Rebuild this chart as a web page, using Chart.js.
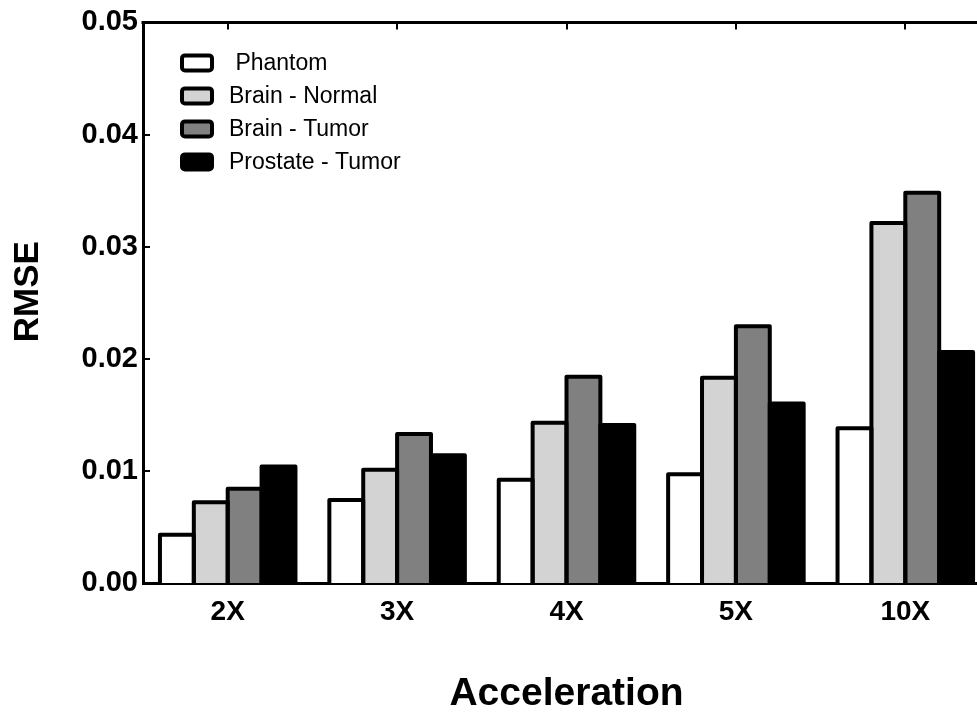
<!DOCTYPE html>
<html>
<head>
<meta charset="utf-8">
<title>RMSE vs Acceleration</title>
<script src="https://cdn.jsdelivr.net/npm/chart.js@4/dist/chart.umd.min.js"></script>
<style>
    html, body { margin: 0; padding: 0; background: #fff; overflow: hidden; }
    #wrap { width: 1000px; height: 715px; }
</style>
</head>
<body>
<div id="wrap"><canvas id="rmseChart" width="1000" height="715"></canvas></div>
<script>
const accelerations = ['2X', '3X', '4X', '5X', '10X'];

const phantom     = [0.0043, 0.0074, 0.0092, 0.0097, 0.0138];
const brainNormal = [0.0072, 0.0101, 0.0143, 0.0183, 0.0321];
const brainTumor  = [0.0084, 0.0133, 0.0184, 0.0229, 0.0348];
const prostate    = [0.0104, 0.0114, 0.0141, 0.0160, 0.0206];

const seriesLabels = [' Phantom', 'Brain - Normal', 'Brain - Tumor', 'Prostate - Tumor'];
const seriesColors = ['#ffffff', '#d3d3d3', '#808080', '#000000'];

const yTicks = [0.00, 0.01, 0.02, 0.03, 0.04, 0.05];
const yTitle = 'RMSE';

const FONT = '"Liberation Sans", Arial, sans-serif';
Chart.defaults.font.family = FONT;
Chart.defaults.color = '#000';

// heavy outline centred on each bar edge, so neighbours share one line
const barOutline = {
    id: 'barOutline',
    afterDatasetsDraw(chart) {
        const ctx = chart.ctx;
        ctx.save();
        ctx.strokeStyle = '#000';
        ctx.lineWidth = 4;
        ctx.lineJoin = 'round';
        chart.data.datasets.forEach((ds, i) => {
            chart.getDatasetMeta(i).data.forEach(bar => {
                const p = bar.getProps(['x', 'y', 'base', 'width'], true);
                const l = p.x - p.width / 2;
                const r = p.x + p.width / 2;
                ctx.beginPath();
                ctx.moveTo(l, p.base);
                ctx.lineTo(l, p.y);
                ctx.lineTo(r, p.y);
                ctx.lineTo(r, p.base);
                ctx.stroke();
            });
        });
        ctx.restore();
    }
};

// legend box in the upper left of the plot
const boxLegend = {
    id: 'boxLegend',
    afterDraw(chart) {
        const ctx = chart.ctx;
        const area = chart.chartArea;
        ctx.save();
        chart.data.datasets.forEach((ds, i) => {
            const x = area.left + 39;
            const y = area.top + 33 + i * 33;
            ctx.beginPath();
            ctx.roundRect(x, y, 30, 15, 3);
            ctx.fillStyle = ds.backgroundColor;
            ctx.fill();
            ctx.lineWidth = 4;
            ctx.strokeStyle = '#000';
            ctx.stroke();
            ctx.fillStyle = '#000';
            ctx.font = '23px ' + FONT;
            ctx.textBaseline = 'middle';
            ctx.textAlign = 'left';
            ctx.fillText(ds.label, x + 47, y + 8);
        });
        ctx.restore();
    }
};

// top frame line, short inward tick marks and the rotated y title
const frameTicks = {
    id: 'frameTicks',
    afterDraw(chart) {
        const ctx = chart.ctx;
        const area = chart.chartArea;
        const xs = chart.scales.x;
        const ys = chart.scales.y;
        ctx.save();
        ctx.strokeStyle = '#000';
        ctx.lineWidth = 3;
        ctx.beginPath();
        ctx.moveTo(area.left - 1.5, area.top);
        ctx.lineTo(area.right, area.top);
        ctx.stroke();
        ctx.lineWidth = 2;
        ctx.beginPath();
        ys.ticks.forEach(t => {
            const py = Math.round(ys.getPixelForValue(t.value));
            ctx.moveTo(area.left, py);
            ctx.lineTo(area.left + 7, py);
        });
        xs.ticks.forEach((t, i) => {
            const px = Math.round(xs.getPixelForTick(i));
            ctx.moveTo(px, area.top);
            ctx.lineTo(px, area.top + 7);
        });
        ctx.stroke();

        ctx.translate(28, (area.top + area.bottom) / 2 - 11);
        ctx.rotate(-Math.PI / 2);
        ctx.fillStyle = '#000';
        ctx.font = 'bold 35px ' + FONT;
        ctx.textAlign = 'center';
        ctx.textBaseline = 'middle';
        ctx.fillText(yTitle, 0, 0);
        ctx.restore();
    }
};

const makeSet = (label, data, i) => ({
    label: label,
    data: data,
    backgroundColor: seriesColors[i],
    borderWidth: 0,
    categoryPercentage: 0.8,
    barPercentage: 1.0
});

new Chart(document.getElementById('rmseChart'), {
    type: 'bar',
    data: {
        labels: accelerations,
        datasets: [
            makeSet(seriesLabels[0], phantom, 0),
            makeSet(seriesLabels[1], brainNormal, 1),
            makeSet(seriesLabels[2], brainTumor, 2),
            makeSet(seriesLabels[3], prostate, 3)
        ]
    },
    options: {
        responsive: false,
        animation: false,
        layout: { padding: { left: 0, right: 10, top: 21, bottom: 0 } },
        plugins: {
            legend: { display: false },
            tooltip: { enabled: false }
        },
        scales: {
            x: {
                z: 1,
                grid: { display: false, drawTicks: false },
                border: { display: true, color: '#000', width: 3 },
                ticks: {
                    padding: 12,
                    font: { size: 28, weight: 'bold' },
                    color: '#000'
                },
                title: {
                    display: true,
                    text: 'Acceleration',
                    font: { size: 39, weight: 'bold', lineHeight: 1 },
                    padding: { top: 0, bottom: 1 },
                    color: '#000'
                },
                afterFit(scale) { scale.height = 132; }
            },
            y: {
                min: 0,
                max: 0.05,
                afterBuildTicks(scale) {
                    scale.ticks = yTicks.map(v => ({ value: v }));
                },
                grid: { display: false, drawTicks: false },
                border: { display: true, color: '#000', width: 3 },
                ticks: {
                    padding: 5,
                    font: { size: 29, weight: 'bold' },
                    color: '#000',
                    callback: v => v.toFixed(2)
                },
                afterFit(scale) { scale.width = 143; }
            }
        }
    },
    plugins: [barOutline, frameTicks, boxLegend]
});
</script>
</body>
</html>
